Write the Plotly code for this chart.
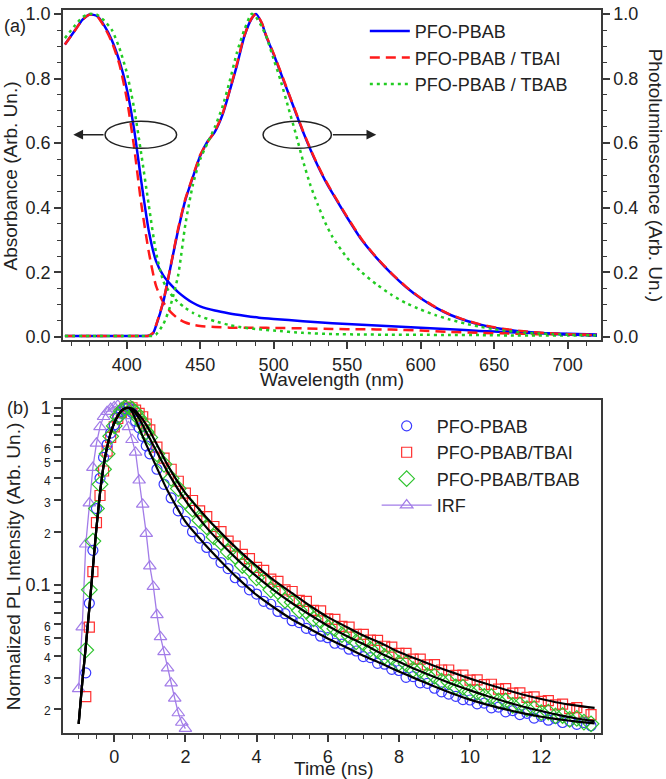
import plotly.graph_objects as go

# ---------- panel (a): absorbance and PL spectra ----------
wl_abs = [358, 365, 370, 375, 380, 385, 390, 395, 400, 405, 410, 415, 420, 425, 430,
          435, 440, 445, 450, 460, 470, 480, 490, 500, 520, 540, 560, 580, 600, 620,
          640, 660, 680, 700, 720]
abs_pfo = [0.905, 0.95, 0.982, 0.998, 0.993, 0.962, 0.918, 0.855, 0.77, 0.645, 0.48,
           0.33, 0.235, 0.19, 0.162, 0.139, 0.121, 0.106, 0.095, 0.082, 0.073, 0.066,
           0.060, 0.056, 0.049, 0.043, 0.038, 0.033, 0.029, 0.024, 0.019, 0.015,
           0.012, 0.010, 0.008]
abs_tbai = [0.905, 0.95, 0.982, 0.998, 0.992, 0.958, 0.912, 0.845, 0.74, 0.59, 0.41,
            0.265, 0.158, 0.107, 0.077, 0.057, 0.045, 0.038, 0.034, 0.031, 0.029,
            0.029, 0.029, 0.028, 0.027, 0.025, 0.024, 0.023, 0.020, 0.016, 0.013,
            0.011, 0.009, 0.008, 0.007]
abs_tbab = [0.925, 0.965, 0.99, 1.0, 0.997, 0.978, 0.95, 0.895, 0.82, 0.71, 0.565,
            0.41, 0.262, 0.172, 0.133, 0.108, 0.09, 0.075, 0.064, 0.049, 0.037, 0.029,
            0.024, 0.020, 0.013, 0.009, 0.008, 0.007, 0.007, 0.006, 0.006, 0.005,
            0.005, 0.005, 0.004]

wl_pl = [358, 380, 400, 410, 415, 418, 420, 425, 430, 435, 440, 445, 450, 455, 460,
         465, 470, 475, 480, 485, 488, 492, 495, 500, 505, 510, 515, 520, 525, 530,
         535, 540, 550, 560, 570, 580, 590, 600, 610, 620, 630, 640, 650, 660, 670,
         680, 690, 700, 710, 720]
pl_pfo = [0.003, 0.003, 0.003, 0.003, 0.004, 0.012, 0.035, 0.11, 0.22, 0.33,
          0.425, 0.494, 0.56, 0.605, 0.635, 0.685, 0.76, 0.84, 0.93, 0.985,
          1.0, 0.97, 0.93, 0.875, 0.815, 0.755, 0.695, 0.635, 0.58, 0.53,
          0.485, 0.445, 0.37, 0.30, 0.245, 0.197, 0.155, 0.12, 0.092, 0.069,
          0.052, 0.039, 0.029, 0.022, 0.017, 0.013, 0.010, 0.008, 0.006, 0.005]
pl_tbai = [0.003, 0.003, 0.003, 0.003, 0.004, 0.013, 0.037, 0.112, 0.222, 0.335,
           0.428, 0.497, 0.563, 0.603, 0.637, 0.688, 0.762, 0.845, 0.932, 0.986,
           1.0, 0.972, 0.932, 0.877, 0.818, 0.757, 0.697, 0.637, 0.582, 0.532,
           0.487, 0.447, 0.372, 0.302, 0.246, 0.198, 0.156, 0.121, 0.093, 0.07,
           0.053, 0.04, 0.03, 0.023, 0.018, 0.014, 0.011, 0.009, 0.007, 0.006]
pl_tbab = [0.003, 0.003, 0.003, 0.003, 0.003, 0.004, 0.008, 0.04, 0.10, 0.19,
           0.35, 0.47, 0.55, 0.60, 0.65, 0.71, 0.79, 0.88, 0.95, 1.0,
           0.99, 0.96, 0.93, 0.86, 0.79, 0.71, 0.63, 0.545, 0.47, 0.41,
           0.355, 0.31, 0.245, 0.20, 0.163, 0.131, 0.105, 0.085, 0.068, 0.054,
           0.042, 0.032, 0.024, 0.018, 0.014, 0.011, 0.009, 0.007, 0.006, 0.005]

# ---------- panel (b): time-resolved PL ----------
t_data = [round(-0.8 + 0.1 * i, 1) for i in range(19)] + [round(1.2 + 0.2 * i, 1) for i in range(62)]
trpl_pfo = [0.032, 0.079, 0.157, 0.27, 0.40, 0.525, 0.62, 0.72, 0.80, 0.88,
            0.95, 0.99, 1.0, 0.94, 0.84, 0.77, 0.69, 0.61, 0.55,
            0.45, 0.37, 0.31, 0.262, 0.229,
            0.2, 0.184, 0.163, 0.150, 0.134,
            0.124, 0.110, 0.104, 0.094, 0.089,
            0.081, 0.078, 0.071, 0.069, 0.063,
            0.0615, 0.057, 0.0555, 0.0515, 0.0505,
            0.047, 0.0465, 0.0435, 0.0425, 0.0395,
            0.039, 0.0362, 0.0358, 0.0335, 0.0330,
            0.0302, 0.0305, 0.0281, 0.0279, 0.0262,
            0.0250, 0.0243, 0.0236, 0.0226, 0.0225,
            0.0214, 0.0216, 0.0203, 0.0205, 0.0193,
            0.0196, 0.0186, 0.0189, 0.0178, 0.0182,
            0.0173, 0.0177, 0.0168, 0.0171, 0.0164,
            0.0168, 0.0161]
trpl_tbai = [0.0235, 0.058, 0.119, 0.225, 0.32, 0.44, 0.57, 0.68, 0.78, 0.87,
             0.94, 0.99, 1.01, 1.0, 0.97, 0.93, 0.89, 0.81, 0.75,
             0.60, 0.52, 0.45, 0.385, 0.33,
             0.30, 0.262, 0.243, 0.214, 0.200,
             0.177, 0.166, 0.149, 0.141, 0.126,
             0.121, 0.108, 0.105, 0.094, 0.092,
             0.082, 0.081, 0.072, 0.0715, 0.0645,
             0.064, 0.0585, 0.058, 0.0528, 0.0528,
             0.049, 0.0488, 0.0452, 0.0447, 0.0412,
             0.0412, 0.0382, 0.0382, 0.0355, 0.0356,
             0.0332, 0.0332, 0.0310, 0.0311, 0.0291,
             0.0292, 0.0275, 0.0276, 0.0259, 0.0261,
             0.0246, 0.0247, 0.0233, 0.0234, 0.0221,
             0.0223, 0.0211, 0.0213, 0.0201, 0.0204,
             0.0192, 0.0186]
trpl_tbab = [0.043, 0.094, 0.177, 0.27, 0.37, 0.45, 0.55, 0.69, 0.79, 0.89,
             0.96, 1.0, 1.02, 0.98, 0.94, 0.87, 0.81, 0.73, 0.68,
             0.55, 0.48, 0.40, 0.35, 0.297,
             0.268, 0.232, 0.213, 0.187, 0.174,
             0.154, 0.145, 0.129, 0.123, 0.110,
             0.106, 0.094, 0.092, 0.082, 0.080,
             0.072, 0.071, 0.0645, 0.063, 0.0578,
             0.0568, 0.0525, 0.0518, 0.0478, 0.0472,
             0.0435, 0.0428, 0.0396, 0.0392, 0.0363,
             0.036, 0.0334, 0.0331, 0.0309, 0.0307,
             0.0287, 0.0285, 0.0267, 0.0266, 0.025,
             0.0249, 0.0236, 0.0235, 0.0222, 0.0222,
             0.021, 0.0211, 0.0201, 0.0201, 0.0191,
             0.0192, 0.0183, 0.0184, 0.0175, 0.0177,
             0.0169, 0.0165]

t_irf = [round(-1.0 + 0.1 * i, 1) for i in range(31)]
irf = [0.026, 0.058, 0.17, 0.29, 0.46, 0.63, 0.78, 0.89, 0.95, 0.99,
       1.01, 1.03, 1.0, 0.90, 0.78, 0.66, 0.56, 0.39, 0.285, 0.195,
       0.128, 0.098, 0.068, 0.051, 0.042, 0.034, 0.028, 0.023, 0.019, 0.0168,
       0.0155]

t_fit = [round(-1.0 + 0.1 * i, 1) for i in range(21)] + [1.5 + 0.5 * i for i in range(25)]
fit_rise = [0.0165, 0.028, 0.045, 0.074, 0.125, 0.21, 0.33, 0.47, 0.60, 0.72,
            0.82, 0.90, 0.96, 0.99, 1.0]
fit_pfo = fit_rise + [0.95, 0.86, 0.77, 0.69, 0.62, 0.56,
                      0.34, 0.228, 0.174, 0.136, 0.108, 0.088, 0.0745, 0.064, 0.0565, 0.050,
                      0.0448, 0.040, 0.0362, 0.0326, 0.0295, 0.0268, 0.0245, 0.0226, 0.0211,
                      0.0199, 0.0189, 0.0181, 0.0175, 0.017, 0.0166]
fit_tbai = fit_rise + [0.99, 0.96, 0.91, 0.86, 0.80, 0.74,
                       0.475, 0.33, 0.252, 0.197, 0.157, 0.128, 0.106, 0.090, 0.0765, 0.066,
                       0.0585, 0.052, 0.047, 0.042, 0.0383, 0.035, 0.0322, 0.0297, 0.0276,
                       0.0257, 0.0241, 0.0228, 0.0217, 0.0209, 0.0203]
fit_tbab = fit_rise + [0.98, 0.93, 0.87, 0.80, 0.73, 0.67,
                       0.435, 0.30, 0.222, 0.172, 0.137, 0.112, 0.093, 0.079, 0.068, 0.059,
                       0.052, 0.0465, 0.0412, 0.037, 0.0333, 0.0303, 0.0277, 0.0255, 0.0236,
                       0.022, 0.0206, 0.0195, 0.0185, 0.0177, 0.0171]

FONT = "Arial, Liberation Sans, sans-serif"
TXT = "#222222"
AX = "#3a3a3a"

fig = go.Figure()

# spectra: blue below red below green
spec = [
    ("PFO-PBAB", abs_pfo, pl_pfo, "#0000ff", "solid", 1),
    ("PFO-PBAB / TBAI", abs_tbai, pl_tbai, "#ff1a1a", "10px,6px", 2),
    ("PFO-PBAB / TBAB", abs_tbab, pl_tbab, "#22cc22", "3px,4px", 3),
]
for name, a, p, col, dash, rank in spec:
    fig.add_trace(go.Scatter(x=wl_abs, y=a, mode="lines", name=name, legendrank=rank,
                             line=dict(color=col, width=2.5, dash=dash, shape="spline", smoothing=0.6),
                             xaxis="x", yaxis="y"))
    fig.add_trace(go.Scatter(x=wl_pl, y=p, mode="lines", showlegend=False,
                             line=dict(color=col, width=2.5, dash=dash, shape="spline", smoothing=0.6),
                             xaxis="x", yaxis="y2"))

# decay data
fig.add_trace(go.Scatter(x=t_irf, y=irf, mode="lines+markers", name="IRF", legend="legend2",
                         legendrank=4,
                         line=dict(color="#a27ce8", width=1.3),
                         marker=dict(symbol="triangle-up-open", size=11, color="#a27ce8",
                                     line=dict(width=1.2)),
                         xaxis="x2", yaxis="y3"))
decays = [
    ("PFO-PBAB/TBAI", trpl_tbai, "square-open", "#ff3030", 10, 2),
    ("PFO-PBAB", trpl_pfo, "circle-open", "#3a3aff", 10, 1),
    ("PFO-PBAB/TBAB", trpl_tbab, "diamond-open", "#2fc42f", 12, 3),
]
for name, vals, sym, col, sz, rank in decays:
    fig.add_trace(go.Scatter(x=t_data, y=vals, mode="markers", name=name, legend="legend2",
                             legendrank=rank,
                             marker=dict(symbol=sym, size=sz, color=col, line=dict(width=1.2)),
                             xaxis="x2", yaxis="y3"))
for vals in (fit_tbai, fit_tbab, fit_pfo):
    fig.add_trace(go.Scatter(x=t_fit, y=vals, mode="lines", showlegend=False,
                             line=dict(color="black", width=2.2, shape="spline", smoothing=0.5),
                             xaxis="x2", yaxis="y3"))

# ellipses with arrows
fig.add_shape(type="circle", xref="x", yref="y", x0=385.3, x1=434, y0=0.584, y1=0.668,
              line=dict(color="#222", width=1.5))
fig.add_shape(type="circle", xref="x", yref="y", x0=492.8, x1=539.3, y0=0.584, y1=0.668,
              line=dict(color="#222", width=1.5))
for head, tail in ((363.7, 385.3), (569.8, 539.3)):
    fig.add_annotation(x=head, y=0.626, ax=tail, ay=0.626, xref="x", yref="y",
                       axref="x", ayref="y", text="", showarrow=True,
                       arrowhead=2, arrowsize=1.3, arrowwidth=1.5, arrowcolor="#222")

tick_font = dict(family=FONT, size=18, color=TXT)
common = dict(showline=True, linecolor=AX, linewidth=1.5, ticks="outside", ticklen=7,
              tickwidth=1.5, tickcolor=AX, tickfont=tick_font, showgrid=False,
              zeroline=False)
minor_style = dict(ticks="outside", ticklen=4, tickcolor=AX, tickwidth=1.2)

log_vals, log_text = [], []
for dec in (0.01, 0.1):
    for m in range(2, 10):
        log_vals.append(round(m * dec, 3))
        log_text.append(f"<span style='font-size:12px'>{m}</span>" if m <= 6 else "")
log_vals += [0.1, 1]
log_text += ["0.1", "1"]

top_dom = [0.5432, 1.0]
bot_dom = [0.0, 0.4609]

fig.update_layout(
    width=666, height=779,
    margin=dict(l=63, r=65, t=4, b=46),
    paper_bgcolor="white", plot_bgcolor="white",
    font=dict(family=FONT, size=18, color=TXT),
    xaxis=dict(common, domain=[0, 1], anchor="y", range=[356.7, 722.7], dtick=50, tick0=400,
               mirror=True, minor=dict(minor_style, dtick=12.5, tick0=400)),
    yaxis=dict(common, domain=top_dom, anchor="x", range=[-0.01, 1.012], dtick=0.2,
               tickformat=".1f", minor=dict(minor_style, dtick=0.05)),
    yaxis2=dict(common, overlaying="y", side="right", anchor="x", range=[-0.01, 1.012],
                dtick=0.2, tickformat=".1f", minor=dict(minor_style, dtick=0.05)),
    xaxis2=dict(common, domain=[0, 1], anchor="y3", range=[-1.44, 13.68], dtick=2, tick0=0,
                mirror=True, minor=dict(minor_style, dtick=0.5, tick0=0)),
    yaxis3=dict(common, domain=bot_dom, anchor="x2", type="log", range=[-1.834, 0.045],
                mirror=True, tickmode="array", tickvals=log_vals, ticktext=log_text),
    legend=dict(x=0.561, y=0.996, xanchor="left", yanchor="top", bgcolor="rgba(0,0,0,0)",
                font=dict(family=FONT, size=18, color=TXT), tracegroupgap=0, itemwidth=40),
    legend2=dict(x=0.583, y=0.45, xanchor="left", yanchor="top", bgcolor="rgba(0,0,0,0)",
                 font=dict(family=FONT, size=18, color=TXT), tracegroupgap=0, itemwidth=50),
)

titles = [
    ("(a)", -0.0892, 0.978, 0, 18),
    ("(b)", -0.0836, 0.45, 0, 18),
    ("Wavelength (nm)", 0.5, 0.489, 0, 19),
    ("Time (ns)", 0.5037, -0.0494, 0, 19),
    ("Absorbance (Arb. Un.)", -0.0967, 0.771, -90, 19),
    ("Photoluminescence (Arb. Un.)", 1.102, 0.771, 90, 19),
    ("Normalized PL Intensity (Arb. Un.)", -0.093, 0.2305, -90, 19),
]
for text, x, y, ang, size in titles:
    fig.add_annotation(text=text, x=x, y=y, xref="paper", yref="paper", showarrow=False,
                       textangle=ang, xanchor="center", yanchor="middle",
                       font=dict(family=FONT, size=size, color=TXT))

# the page's default body margin would push the 666x779 figure off the window
fig.write_html("out.html", config={"displayModeBar": False},
               post_script="document.body.style.margin='0';")
